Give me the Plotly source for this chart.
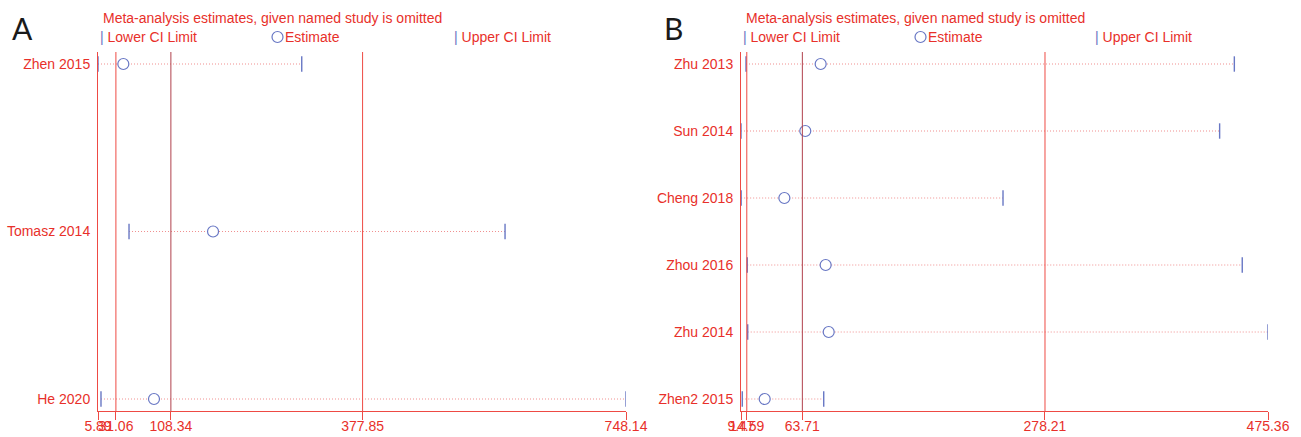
import plotly.graph_objects as go

# ---------------- Data ----------------
studies_a = ["Zhen 2015", "Tomasz 2014", "He 2020"]
lower_a = [5.89, 49.5, 10.1]
est_a = [41.5, 167.6, 84.6]
upper_a = [292.3, 578.1, 748.14]
summary_a = [31.06, 108.34, 377.85]   # overall lower CI, estimate, upper CI
range_a = [5.89, 748.14]

studies_b = ["Zhu 2013", "Sun 2014", "Cheng 2018", "Zhou 2016", "Zhu 2014", "Zhen2 2015"]
lower_b = [13.9, 9.47, 9.6, 15.0, 15.4, 10.6]
est_b = [79.9, 66.3, 47.8, 84.3, 87.0, 30.4]
upper_b = [445.6, 432.6, 241.1, 452.6, 475.36, 82.6]
summary_b = [14.59, 63.71, 278.21]
range_b = [9.47, 475.36]

# ---------------- Style ----------------
RED = "#e8302a"
LINE_RED = "#ee4a44"
EST_LINE = "#b0404c"
BLUE = "#6877c4"
PINK = "#f08f8f"
FONT = "Liberation Sans, Arial, sans-serif"
W, H = 1301, 437

fig = go.Figure()


def px2x(px):
    return px / W


def px2y(py):
    return 1 - py / H


def add_panel(studies, lower, est, upper, summary, xa, ya):
    n = len(studies)
    ys = [n - i for i in range(n)]
    lx, ly = [], []
    for lo, up, y in zip(lower, upper, ys):
        lx += [lo, up, None]
        ly += [y, y, None]
    fig.add_trace(go.Scatter(x=lx, y=ly, mode="lines", xaxis=xa, yaxis=ya,
                             line=dict(color=PINK, width=1, dash="1px,2px"),
                             hoverinfo="skip"))
    for vals in (lower, upper):
        fig.add_trace(go.Scatter(x=vals, y=ys, mode="markers", xaxis=xa, yaxis=ya,
                                 marker=dict(symbol="line-ns", size=11,
                                             line=dict(color=BLUE, width=1.4))))
    fig.add_trace(go.Scatter(x=est, y=ys, mode="markers", xaxis=xa, yaxis=ya,
                             marker=dict(symbol="circle", size=11, color="white",
                                         line=dict(color=BLUE, width=1.2))))
    for k, v in enumerate(summary):
        fig.add_shape(type="line", xref=xa, yref=ya + " domain", x0=v, x1=v, y0=0, y1=1,
                      line=dict(color=EST_LINE if k == 1 else LINE_RED, width=1))
    return ys


ys_a = add_panel(studies_a, lower_a, est_a, upper_a, summary_a, "x", "y")
ys_b = add_panel(studies_b, lower_b, est_b, upper_b, summary_b, "x2", "y2")

ydom = [px2y(411), px2y(52)]


def xaxis_cfg(rng, summary, dom, ya):
    vals = [rng[0]] + summary + [rng[1]]
    return dict(domain=dom, range=rng, anchor=ya, showgrid=False, zeroline=False,
                showline=True, linecolor=LINE_RED, linewidth=1, automargin=False,
                ticks="outside", ticklen=8, tickcolor=LINE_RED, tickwidth=1,
                tickangle=0, ticklabelstandoff=-6,
                tickvals=vals, ticktext=[f"{v:.2f}" for v in vals],
                tickfont=dict(family=FONT, size=14, color=RED), fixedrange=True)


def yaxis_cfg(studies, ys, xa):
    n = len(studies)
    top_px, bot_px = 64, 399
    per = (bot_px - top_px) / (n - 1)
    rng = [1 - (411 - bot_px) / per, n + (top_px - 52) / per]
    return dict(domain=ydom, range=rng, anchor=xa, showgrid=False, zeroline=False,
                showline=True, linecolor=LINE_RED, linewidth=1, automargin=False,
                ticks="outside", ticklen=4, tickcolor="rgba(0,0,0,0)",
                tickvals=ys, ticktext=studies,
                tickfont=dict(family=FONT, size=14, color=RED), fixedrange=True)


fig.update_layout(
    width=W, height=H, margin=dict(l=0, r=0, t=0, b=0, autoexpand=False),
    paper_bgcolor="white", plot_bgcolor="white", showlegend=False,
    xaxis=xaxis_cfg(range_a, summary_a, [px2x(98), px2x(626)], "y"),
    yaxis=yaxis_cfg(studies_a, ys_a, "x"),
    xaxis2=xaxis_cfg(range_b, summary_b, [px2x(741), px2x(1268)], "y2"),
    yaxis2=yaxis_cfg(studies_b, ys_b, "x2"),
)

title = "Meta-analysis estimates, given named study is omitted"
ann = []
common = dict(xref="paper", yref="paper", showarrow=False, xanchor="left", yanchor="middle")
for letter, lx, tx, l1, l2, l3 in (("A", 10, 101, 98, 272, 452), ("B", 662, 744, 741, 915, 1093)):
    ann.append(dict(x=px2x(lx), y=px2y(28), text=letter,
                    font=dict(family="Lato, sans-serif", size=30, color="#1a1a1a"), **common))
    ann.append(dict(x=px2x(tx), y=px2y(18), text=title,
                    font=dict(family=FONT, size=14, color=RED), **common))
    ann.append(dict(x=px2x(l1), y=px2y(37),
                    text=f"<span style='color:{BLUE}'>|</span> Lower CI Limit",
                    font=dict(family=FONT, size=14, color=RED), **common))
    fig.add_shape(type="circle", xref="paper", yref="paper",
                  x0=px2x(l2), x1=px2x(l2 + 11), y0=px2y(42.5), y1=px2y(31.5),
                  line=dict(color=BLUE, width=1.2), fillcolor="white")
    ann.append(dict(x=px2x(l2 + 11), y=px2y(37), text="Estimate",
                    font=dict(family=FONT, size=14, color=RED), **common))
    ann.append(dict(x=px2x(l3), y=px2y(37),
                    text=f"<span style='color:{BLUE}'>|</span> Upper CI Limit",
                    font=dict(family=FONT, size=14, color=RED), **common))
fig.update_layout(annotations=ann)

fig.write_html("out.html", config={"displayModeBar": False},
               post_script="document.body.style.margin='0';")
